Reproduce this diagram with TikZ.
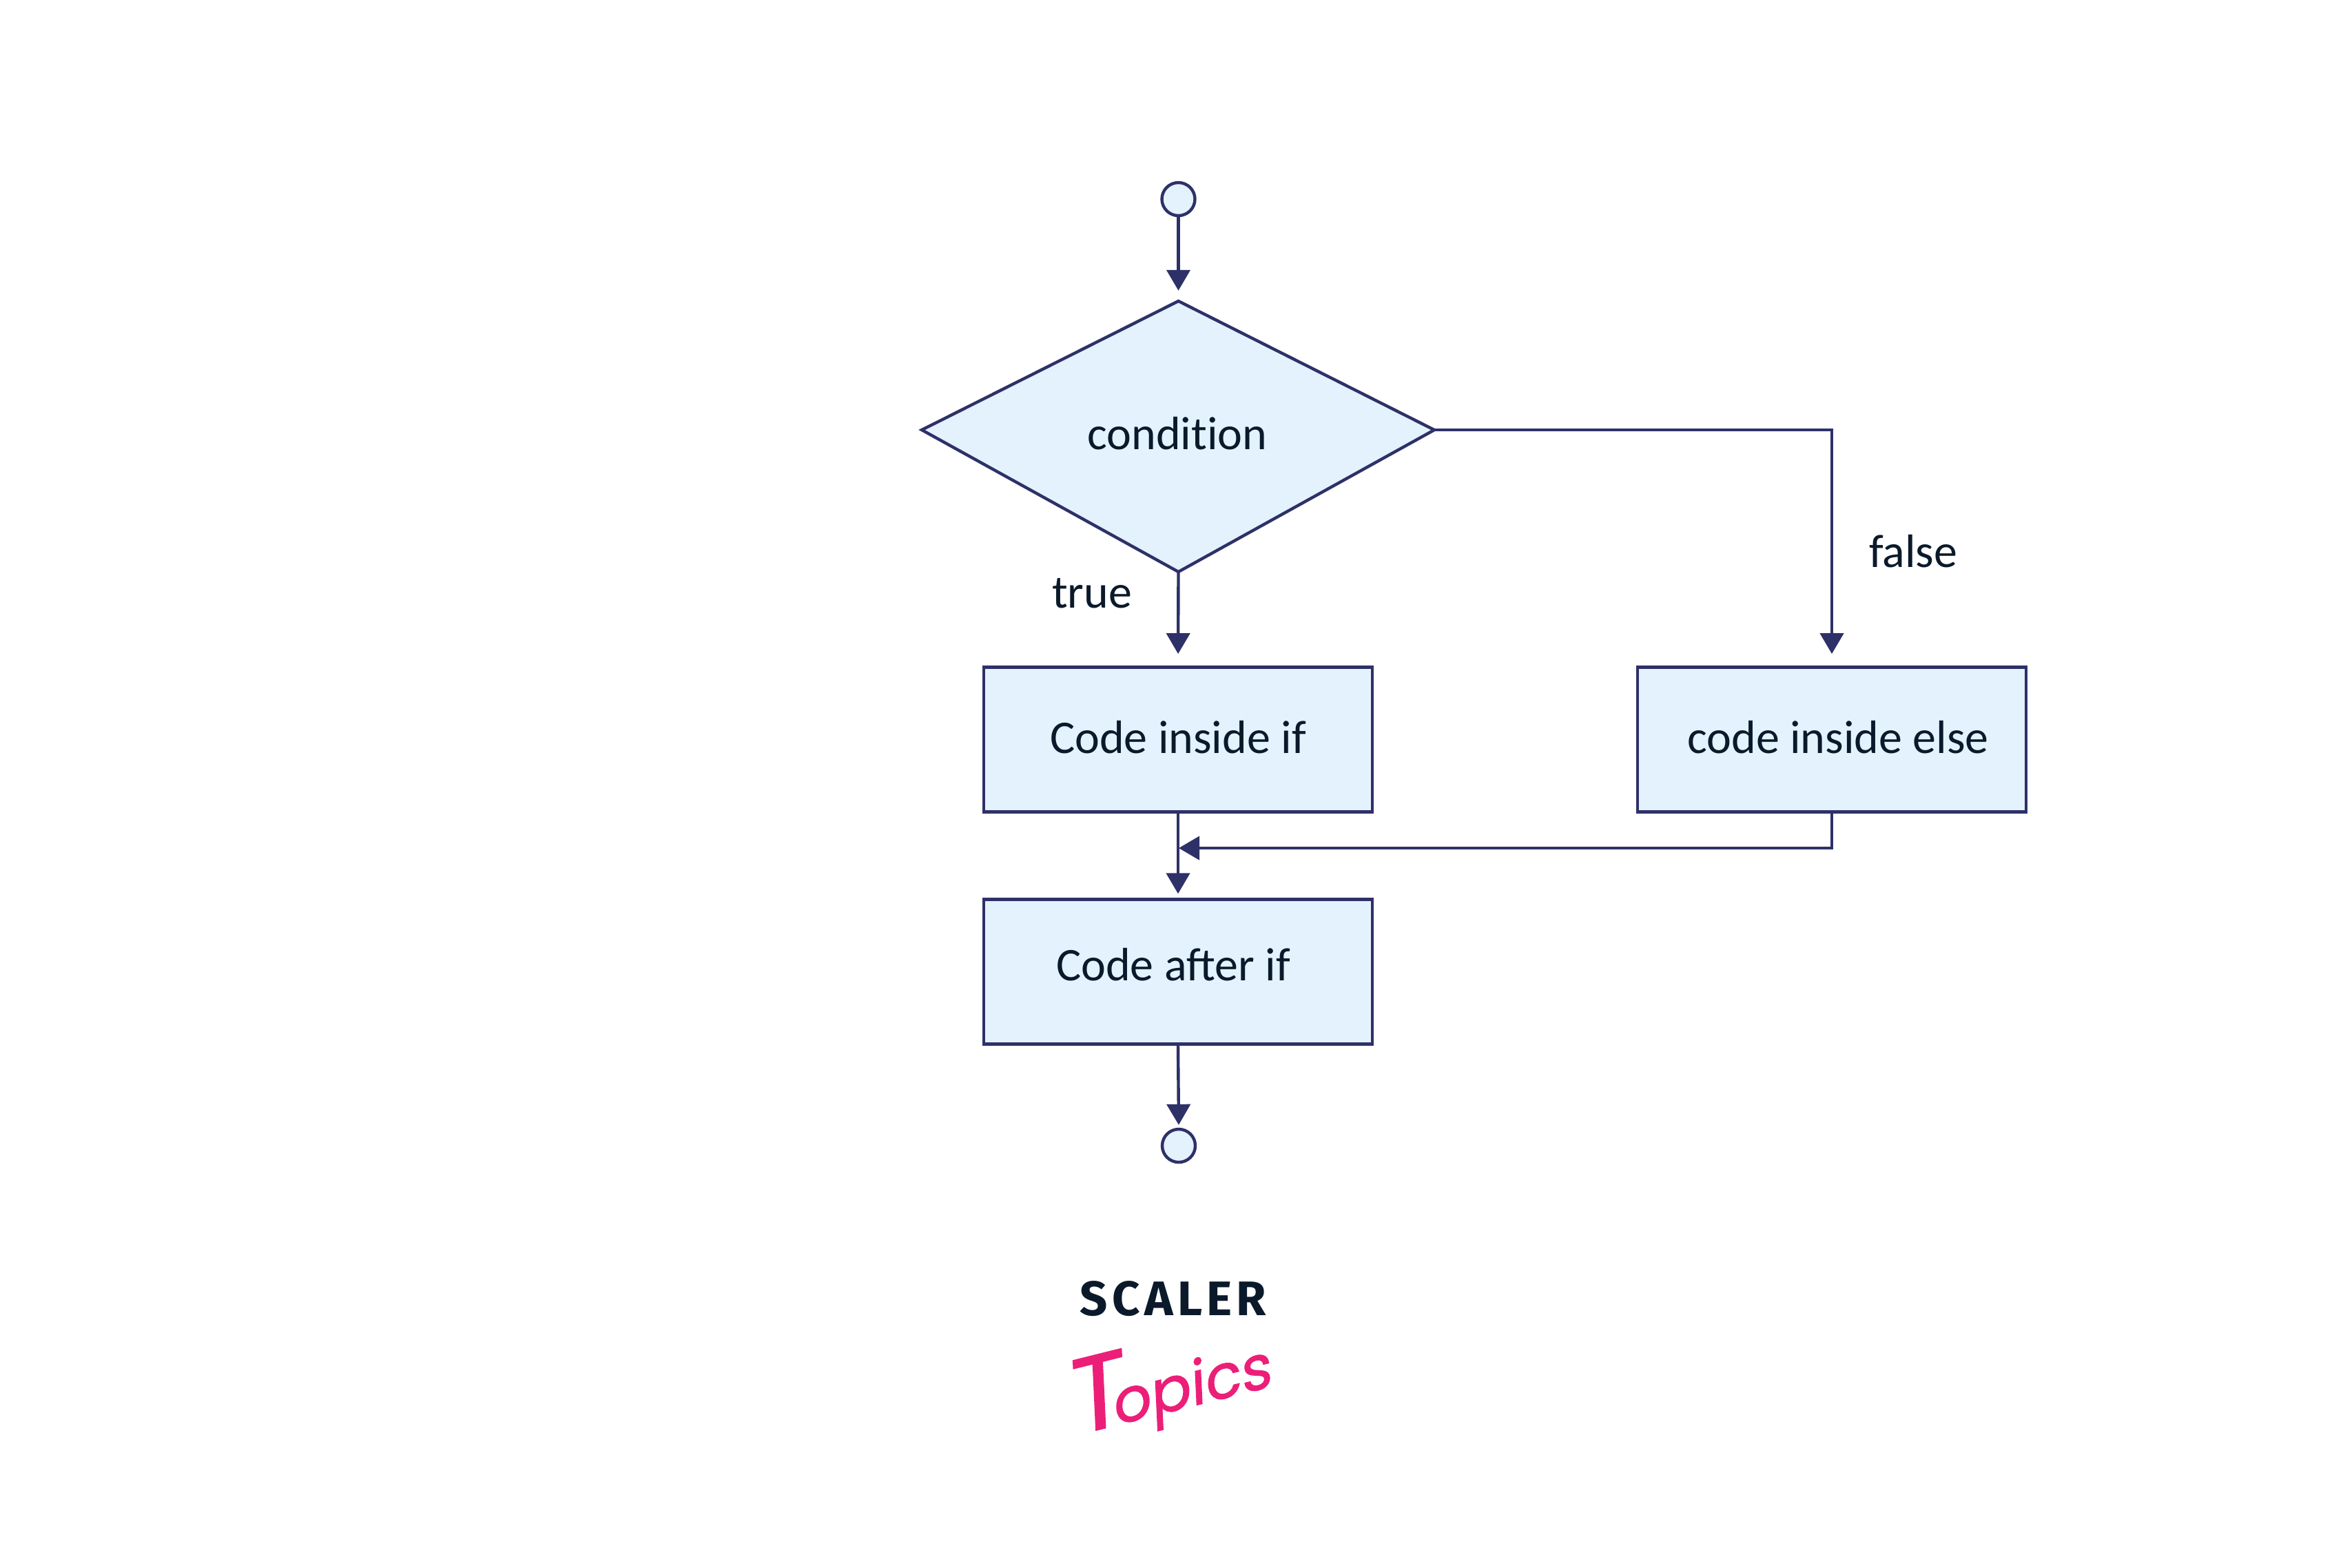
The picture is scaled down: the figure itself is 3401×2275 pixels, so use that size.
\documentclass[tikz,border=0pt]{standalone}
\usepackage{fontspec}
\setmainfont{Carlito}
\newfontfamily\logofont[LetterSpace=9]{Fira Sans}
\newfontfamily\topicsfont[FakeSlant=0.2,FakeBold=1.2]{Poppins}
\usetikzlibrary{arrows.meta}
\definecolor{linecol}{HTML}{2E3168}
\definecolor{fillcol}{HTML}{E3F2FD}
\definecolor{textcol}{HTML}{0B1A2B}
\definecolor{pinkcol}{HTML}{EC1F78}
\tikzset{
  shapeline/.style={draw=linecol,line width=1.1pt,fill=fillcol},
  box/.style={shapeline,rectangle,minimum width=141pt,minimum height=52.5pt,inner sep=0pt},
  term/.style={shapeline,circle,minimum size=12pt,inner sep=0pt},
  label/.style={text=textcol,font=\fontsize{17}{19}\selectfont,anchor=base,inner sep=0pt},
  conn/.style={draw=linecol,line width=1.1pt,-{Triangle[length=7.5pt,width=8.5pt]}}
}
\begin{document}
\begin{tikzpicture}[x=0.25pt,y=-0.25pt]
\useasboundingbox (0,0) rectangle (3401,2275);
% decision
\coordinate (dtop) at (1710.5,437);
\coordinate (dleft) at (1338,624);
\coordinate (dright) at (2082,624);
\coordinate (dbot) at (1710.5,830);
\filldraw[shapeline,line join=miter] (dtop) -- (dright) -- (dbot) -- (dleft) -- cycle;
\node[label] (cond) at (1709,652) {condit\kern0pt ion};
% terminals and boxes
\node[term] (start) at (1710.5,289) {};
\node[box] (ifbox) at (1710,1073.5) {};
\node[box] (elsebox) at (2659,1073.5) {};
\node[box] (afterbox) at (1710,1410.5) {};
\node[term] (stop) at (1711,1663) {};
\node[label] (iftxt) at (1710,1093) {Code inside if};
\node[label] (elsetxt) at (2668,1093) {code inside else};
\node[label] (aftertxt) at (1703,1423) {Code after if};
\node[label] (truelbl) at (1585,882) {true};
\node[label] (falselbl) at (2777,823) {false};
% connectors
\coordinate (merge) at (1711,1231);
\draw[conn,shorten >=3.8pt] (start.south) -- (dtop);
\draw[conn,shorten >=4.3pt] (dbot) -- (ifbox.north);
\draw[conn,shorten >=4.3pt] (dright) -| (elsebox.north);
\draw[conn,shorten >=1.5pt] (ifbox.south) -- (afterbox.north);
\draw[conn] (elsebox.south) |- (merge);
\draw[conn,shorten >=1pt] (afterbox.south) -- (stop.north);
% logo
\node[text=textcol,font=\logofont\bfseries\fontsize{17.6}{19}\selectfont,anchor=base,inner sep=0pt] (scaler) at (1703,1909) {SCALER};
\node[text=pinkcol,font=\topicsfont\fontsize{22}{24}\selectfont,anchor=base,inner sep=0pt,rotate=14] (topics) at (1703,2048) {{\fontsize{38}{40}\selectfont T}\kern-5pt opics};
\end{tikzpicture}
\end{document}
